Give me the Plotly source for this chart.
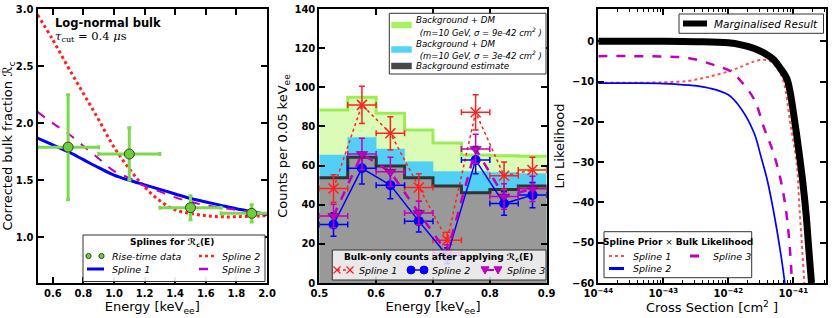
import plotly.graph_objects as go

# ---------------- Panel 1 data ----------------
energy_grid = [0.5, 0.6, 0.7, 0.8, 0.9, 1.0, 1.1, 1.2, 1.3, 1.4, 1.5, 1.6, 1.7, 1.8, 1.9, 2.0]
rc_spline1 = [1.87, 1.81, 1.75, 1.68, 1.61, 1.545, 1.50, 1.46, 1.42, 1.38, 1.34, 1.31, 1.28, 1.25, 1.225, 1.20]
rc_spline2 = [2.95, 2.73, 2.49, 2.26, 2.03, 1.79, 1.60, 1.44, 1.32, 1.24, 1.21, 1.19, 1.18, 1.18, 1.185, 1.19]
rc_spline3 = [2.10, 2.00, 1.91, 1.80, 1.69, 1.58, 1.52, 1.45, 1.40, 1.35, 1.31, 1.28, 1.26, 1.24, 1.22, 1.20]
rise_E = [0.7, 1.1, 1.5, 1.9]
rise_E_err = [0.2, 0.2, 0.2, 0.2]
rise_Rc = [1.79, 1.73, 1.26, 1.21]
rise_Rc_err = [0.46, 0.23, 0.105, 0.075]

# ---------------- Panel 2 data ----------------
bin_edges = [0.5, 0.55, 0.6, 0.65, 0.7, 0.75, 0.8, 0.85, 0.9]
bin_centers = [0.525, 0.575, 0.625, 0.675, 0.725, 0.775, 0.825, 0.875]
bin_half = [0.025] * 8
bg_estimate = [53.8, 64.2, 59.8, 53.8, 49.5, 46.1, 47.8, 49.5]
bg_dm_3e42 = [65.4, 74.4, 68.5, 62.0, 57.0, 57.0, 56.5, 56.0]
bg_dm_9e42 = [88.4, 94.9, 86.7, 78.2, 71.5, 65.4, 65.0, 64.8]
counts_s1 = [48.3, 91.0, 76.5, 48.8, 21.9, 87.2, 54.8, 57.7]
counts_s1_err = [7.0, 9.5, 8.5, 7.0, 4.0, 9.0, 7.0, 6.5]
counts_s2 = [29.9, 58.6, 50.0, 31.6, 14.0, 62.8, 40.6, 44.9]
counts_s2_err = [6.0, 8.0, 7.0, 5.5, 4.0, 7.0, 6.0, 6.5]
counts_s3 = [34.2, 65.9, 56.8, 35.8, 15.5, 68.5, 44.2, 48.1]
counts_s3_err = [6.0, 8.0, 7.5, 6.0, 4.0, 7.5, 6.5, 6.5]

# ---------------- Panel 3 data (log10 cross section, ln L) ----------------
marg_exp = [-44, -43, -42.5, -42, -41.8, -41.6, -41.4, -41.3, -41.2, -41.1, -41.05, -41.0, -40.95, -40.9, -40.85, -40.8, -40.76, -40.72]
marg_lnl = [0, 0, -0.1, -0.4, -0.9, -1.8, -3.4, -4.6, -6.7, -9.3, -12.5, -17.5, -23, -29, -35.5, -43.5, -52, -60]
s1_exp = [-44, -43.5, -43, -42.6, -42.3, -42.0, -41.8, -41.6, -41.45, -41.35, -41.25, -41.15, -41.05, -40.95, -40.91, -40.87, -40.83]
s1_lnl = [-10.3, -10.3, -10.2, -9.8, -8.8, -7.5, -6.3, -5.0, -4.6, -5.0, -6.6, -10, -20, -30, -40, -50, -60]
s2_exp = [-44, -43.5, -43, -42.6, -42.3, -42.0, -41.8, -41.6, -41.5, -41.4, -41.3, -41.2, -41.13]
s2_lnl = [-10.4, -10.4, -10.5, -10.9, -11.6, -13.3, -16.8, -22.9, -28.5, -34.5, -42.5, -52, -60]
s3_exp = [-44, -43.5, -43, -42.6, -42.2, -41.95, -41.8, -41.6, -41.45, -41.3, -41.18, -41.1, -41.05, -41.02]
s3_lnl = [-3.7, -3.7, -3.8, -4.2, -6.0, -7.6, -10, -14.5, -21.5, -28, -35.5, -43.5, -52, -60]

xsec_ticks_exp = [-44, -43, -42, -41]

# ---------------- styles ----------------
RED = '#ff2020'
RED3 = '#ff5050'
BLUE = '#0000ff'
MAG = '#c000c0'
GREEN_PT = '#6ccc3c'
GREEN_ERR = '#7dd84e'
FONT = 'DejaVu Sans'
W, H = 834, 318

fig = go.Figure()

# ---- Panel 1 ----
fig.add_trace(go.Scatter(x=energy_grid, y=rc_spline2, mode='lines', name='Spline 2',
                         line=dict(color=RED, width=3, dash='dot', shape='spline'), xaxis='x', yaxis='y'))
fig.add_trace(go.Scatter(x=energy_grid, y=rc_spline1, mode='lines', name='Spline 1',
                         line=dict(color=BLUE, width=3, shape='spline'), xaxis='x', yaxis='y'))
fig.add_trace(go.Scatter(x=energy_grid, y=rc_spline3, mode='lines', name='Spline 3',
                         line=dict(color=MAG, width=2, dash='dash', shape='spline'), xaxis='x', yaxis='y'))
fig.add_trace(go.Scatter(x=rise_E, y=rise_Rc, mode='markers', name='Rise-time data',
                         marker=dict(color=GREEN_PT, size=10, line=dict(color='#2e4a1a', width=1)),
                         error_x=dict(type='data', array=rise_E_err, color=GREEN_ERR, thickness=3, width=2),
                         error_y=dict(type='data', array=rise_Rc_err, color=GREEN_ERR, thickness=3, width=2),
                         xaxis='x', yaxis='y'))

# ---- Panel 2 ----
def step(vals):
    return list(vals) + [vals[-1]]

fig.add_trace(go.Scatter(x=bin_edges, y=step(bg_dm_9e42), mode='lines', line=dict(color='#9cee50', width=3, shape='hv'),
                         fill='tozeroy', fillcolor='#dafcb6', xaxis='x2', yaxis='y2'))
fig.add_trace(go.Scatter(x=bin_edges, y=step(bg_dm_3e42), mode='lines', line=dict(color='#52cff5', width=0.5, shape='hv'),
                         fill='tozeroy', fillcolor='#52cff5', xaxis='x2', yaxis='y2'))
fig.add_trace(go.Scatter(x=bin_edges, y=step(bg_estimate), mode='lines', line=dict(color='#333333', width=3, shape='hv'),
                         fill='tozeroy', fillcolor='#999999', xaxis='x2', yaxis='y2'))
fig.add_trace(go.Scatter(x=bin_centers, y=counts_s1, mode='lines+markers', name='Spline 1',
                         line=dict(color=RED, width=1.5, dash='dot'),
                         marker=dict(symbol='x-thin', size=10, line=dict(color=RED, width=1.5), color=RED),
                         error_x=dict(type='data', array=bin_half, color=RED, thickness=1.5, width=3),
                         error_y=dict(type='data', array=counts_s1_err, color=RED, thickness=1.5, width=3),
                         xaxis='x2', yaxis='y2'))
fig.add_trace(go.Scatter(x=bin_centers, y=counts_s2, mode='lines+markers', name='Spline 2',
                         line=dict(color=BLUE, width=1.5),
                         marker=dict(symbol='circle', size=10, color=BLUE),
                         error_x=dict(type='data', array=bin_half, color=BLUE, thickness=1.5, width=3),
                         error_y=dict(type='data', array=counts_s2_err, color=BLUE, thickness=1.5, width=3),
                         xaxis='x2', yaxis='y2'))
fig.add_trace(go.Scatter(x=bin_centers, y=counts_s3, mode='lines+markers', name='Spline 3',
                         line=dict(color=MAG, width=2.5, dash='dash'),
                         marker=dict(symbol='triangle-down', size=10, color=MAG, line=dict(color='#600060', width=0.5)),
                         error_x=dict(type='data', array=bin_half, color=MAG, thickness=1.5, width=3),
                         error_y=dict(type='data', array=counts_s3_err, color=MAG, thickness=1.5, width=3),
                         xaxis='x2', yaxis='y2'))

# ---- Panel 3 ----
def xs(exps):
    return [10 ** e for e in exps]

fig.add_trace(go.Scatter(x=xs(s1_exp), y=s1_lnl, mode='lines', name='Spline 1',
                         line=dict(color=RED3, width=2, dash='dot', shape='spline'), xaxis='x3', yaxis='y3'))
fig.add_trace(go.Scatter(x=xs(s3_exp), y=s3_lnl, mode='lines', name='Spline 3',
                         line=dict(color=MAG, width=2.5, dash='dash', shape='spline'), xaxis='x3', yaxis='y3'))
fig.add_trace(go.Scatter(x=xs(s2_exp), y=s2_lnl, mode='lines', name='Spline 2',
                         line=dict(color=BLUE, width=1.7, shape='spline'), xaxis='x3', yaxis='y3'))
fig.add_trace(go.Scatter(x=xs(marg_exp), y=marg_lnl, mode='lines', name='Marginalised Result',
                         line=dict(color='black', width=7, shape='spline'), xaxis='x3', yaxis='y3'))

# ---------------- pixel helpers (window pixels -> paper) ----------------
def px(x):
    return x / W

def py(y):
    return 1 - y / H

# ---------------- axes ----------------
ydom = [py(283), py(9)]
tickfont = dict(family=FONT, size=10, color='black', weight='bold')
titlefont = dict(family=FONT, size=13, color='black')
common = dict(showgrid=False, zeroline=False, showline=True, linecolor='black', linewidth=2,
              mirror='allticks', ticks='inside', ticklen=6, tickwidth=1.5, tickcolor='black',
              tickfont=tickfont, automargin=False)

minor_vals = [m * 10 ** e for e in [-44, -43, -42, -41] for m in range(2, 10)]

fig.update_layout(
    width=W, height=H, margin=dict(l=0, r=0, t=0, b=0), showlegend=False,
    paper_bgcolor='white', plot_bgcolor='white',
    xaxis=dict(domain=[px(37.5), px(267)], range=[0.5, 2.0], tickvals=[0.6, 0.8, 1.0, 1.2, 1.4, 1.6, 1.8, 2.0],
               tickformat='.1f',
               title=dict(text='Energy [keV<sub>ee</sub>]', font=titlefont, standoff=3), anchor='y', **common),
    yaxis=dict(domain=ydom, range=[0.6, 3.0], tickvals=[1.0, 1.5, 2.0, 2.5, 3.0], tickformat='.1f',
               title=dict(text='Corrected bulk fraction ℛ<sub>c</sub>', font=titlefont, standoff=4), anchor='x', **common),
    xaxis2=dict(domain=[px(319.3), px(546.7)], range=[0.5, 0.9], tickvals=[0.5, 0.6, 0.7, 0.8, 0.9], tickformat='.1f',
                title=dict(text='Energy [keV<sub>ee</sub>]', font=titlefont, standoff=3), anchor='y2', **common),
    yaxis2=dict(domain=ydom, range=[0, 140], tickvals=[0, 20, 40, 60, 80, 100, 120, 140],
                title=dict(text='Counts per 0.05 keV<sub>ee</sub>', font=titlefont, standoff=4), anchor='x2', **common),
    xaxis3=dict(domain=[px(598.3), px(825.8)], type='log', range=[-44, -40.5],
                tickvals=xs(xsec_ticks_exp), ticktext=['10<sup>−%d</sup>' % (-e) for e in xsec_ticks_exp],
                minor=dict(tickvals=minor_vals, ticks='inside', ticklen=3, tickwidth=1, tickcolor='black'),
                title=dict(text='Cross Section [cm<sup>2</sup> ]', font=titlefont, standoff=3), anchor='y3', **common),
    yaxis3=dict(domain=ydom, range=[-60, 8], tickvals=[0, -10, -20, -30, -40, -50, -60],
                title=dict(text='Ln Likelihood', font=titlefont, standoff=4), anchor='x3', **common),
)

# ---------------- manual legends ----------------
def box(x0, y0, x1, y1, fill='rgba(255,255,255,0.92)', edge='#333333', lw=1):
    fig.add_shape(type='rect', xref='paper', yref='paper', x0=px(x0), x1=px(x1), y0=py(y0), y1=py(y1),
                  fillcolor=fill, line=dict(color=edge, width=lw), layer='above')

def seg(x0, x1, y, color, width, dash='solid'):
    fig.add_shape(type='line', xref='paper', yref='paper', x0=px(x0), x1=px(x1), y0=py(y), y1=py(y),
                  line=dict(color=color, width=width, dash=dash), layer='above')

def dot(x, y, r, color, edge=None):
    fig.add_shape(type='circle', xref='paper', yref='paper', x0=px(x - r), x1=px(x + r), y0=py(y + r), y1=py(y - r),
                  fillcolor=color, line=dict(color=edge or color, width=1), layer='above')

def tri(x, y, s, color):
    path = 'M %f,%f L %f,%f L %f,%f Z' % (px(x - s), py(y - s * 0.8), px(x + s), py(y - s * 0.8), px(x), py(y + s))
    fig.add_shape(type='path', xref='paper', yref='paper', path=path, fillcolor=color,
                  line=dict(color=color, width=1), layer='above')

def xmark(x, y, s, color):
    fig.add_shape(type='line', xref='paper', yref='paper', x0=px(x - s), x1=px(x + s), y0=py(y - s), y1=py(y + s),
                  line=dict(color=color, width=1.3), layer='above')
    fig.add_shape(type='line', xref='paper', yref='paper', x0=px(x - s), x1=px(x + s), y0=py(y + s), y1=py(y - s),
                  line=dict(color=color, width=1.3), layer='above')

def patch(x0, y0, x1, y1, color):
    fig.add_shape(type='rect', xref='paper', yref='paper', x0=px(x0), x1=px(x1), y0=py(y0), y1=py(y1),
                  fillcolor=color, line=dict(color=color, width=0.5), layer='above')

def txt(x, y, s, size=9.5, anchor='left', italic=True, family=FONT):
    fig.add_annotation(xref='paper', yref='paper', x=px(x), y=py(y), text=s, showarrow=False,
                       xanchor=anchor, yanchor='middle', borderpad=0,
                       font=dict(family=family, size=size, color='black', style='italic' if italic else 'normal'))

# Panel 1 legend
box(83, 235, 265, 281.5)
txt(172, 242, '<b>Splines for ℛ<sub>c</sub>(E)</b>', size=9, anchor='center', italic=False)
dot(88.5, 256, 2.6, GREEN_PT, '#2e4a1a')
dot(101.5, 256, 2.6, GREEN_PT, '#2e4a1a')
txt(111, 256, 'Rise-time data')
seg(199, 216, 256, RED, 2.5, 'dot')
txt(221, 256, 'Spline 2')
seg(87, 104, 269, BLUE, 3)
txt(111, 269, 'Spline 1')
seg(199, 216, 269, MAG, 2.5, 'dash')
txt(221, 269, 'Spline 3')

# Panel 2 upper legend
box(389.3, 13.3, 546, 74, fill='rgba(255,255,255,0.95)')
patch(391.5, 22, 411.5, 28, '#a8f262')
txt(415, 19.5, 'Background + DM', size=8.7)
txt(416, 31.5, ' (m=10 GeV, σ = 9e-42 cm<sup>2</sup> )', size=8.5)
patch(391.5, 46.5, 411.5, 52.5, '#55d2f7')
txt(415, 43.5, 'Background + DM', size=8.7)
txt(416, 55, ' (m=10 GeV, σ = 3e-42 cm<sup>2</sup> )', size=8.5)
patch(391.5, 63, 411.5, 69, '#484848')
txt(415, 66, 'Background estimate', size=8.7)

# Panel 2 lower legend
box(332.3, 250, 546, 280, fill='rgba(255,255,255,0.78)')
txt(439, 257.5, '<b>Bulk-only counts after applying ℛ<sub>c</sub>(E)</b>', size=9, anchor='center', italic=False)
seg(337, 350, 270, RED, 1.5, 'dot')
xmark(337, 270, 3.5, RED)
xmark(350, 270, 3.5, RED)
txt(358, 270, 'Spline 1')
seg(411, 424, 270, BLUE, 1.5)
dot(411, 270, 4, BLUE)
dot(424, 270, 4, BLUE)
txt(431, 270, 'Spline 2')
seg(485, 498, 270, MAG, 2, 'dash')
tri(485, 270, 4, MAG)
tri(498, 270, 4, MAG)
txt(506, 270, 'Spline 3')

# Panel 3 upper legend
box(679, 14, 823.5, 33.3, fill='rgba(255,255,255,0.95)')
seg(683, 707, 23.5, 'black', 6)
txt(713, 23.5, 'Marginalised Result', size=10.5)

# Panel 3 lower legend
box(604, 231.7, 751.7, 277.7, fill='rgba(255,255,255,0.95)')
txt(678, 241.5, '<b>Spline Prior</b> × <b>Bulk Likelihood</b>', size=9, anchor='center', italic=False)
seg(609, 624, 256, RED3, 2, 'dot')
txt(632, 256, 'Spline 1')
seg(690, 704, 256, MAG, 3, 'dash')
txt(712, 256, 'Spline 3')
seg(609, 624, 268.5, BLUE, 3)
txt(632, 268.5, 'Spline 2')

# ---------------- annotations ----------------
fig.add_annotation(x=0.6, y=2.88, xref='x', yref='y', text='<b>Log-normal bulk</b>', showarrow=False,
                   xanchor='left', yanchor='middle', font=dict(family=FONT, size=11.5, color='black'))
fig.add_annotation(x=0.6, y=2.76, xref='x', yref='y', text='<i>τ</i><sub>cut</sub> = 0.4 <i>μ</i>s', showarrow=False,
                   xanchor='left', yanchor='middle', font=dict(family='DejaVu Serif', size=11.5, color='black'))

# remove the browser's default page margin so the figure fills the window exactly
fig.write_html('out.html', config={'displayModeBar': False},
               post_script="document.body.style.margin='0px';")
